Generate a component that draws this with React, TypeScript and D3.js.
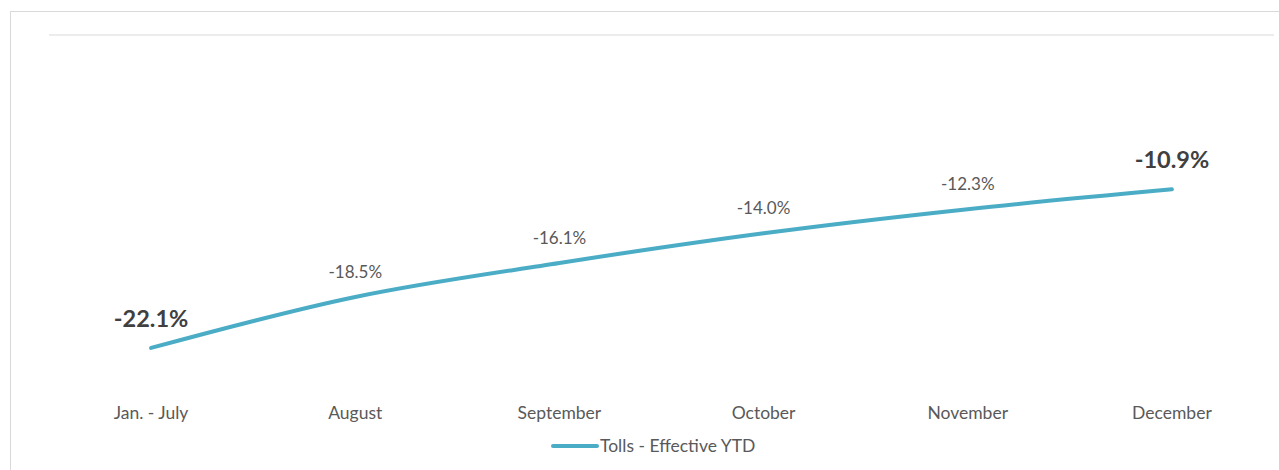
import React from "react";
import * as d3 from "d3";

const categories = ["Jan. - July", "August", "September", "October", "November", "December"];
const values = [-22.1, -18.5, -16.1, -14.0, -12.3, -10.9];
const seriesName = "Tolls - Effective YTD";

const width = 1279;
const height = 470;
const margin = { top: 35, right: 5, bottom: 81, left: 49 };
const lineColor = "#4BACC6";
const font = "Lato, 'Open Sans', sans-serif";

export default function App() {
  const x = d3
    .scaleBand<string>()
    .domain(categories)
    .range([margin.left, width - margin.right]);
  const y = d3
    .scaleLinear()
    .domain([-25, 0])
    .range([389, margin.top]);

  const cx = (c: string) => (x(c) ?? 0) + x.bandwidth() / 2;

  const line = d3
    .line<number>()
    .x((_, i) => cx(categories[i]))
    .y((d) => y(d))
    .curve(d3.curveMonotoneX);

  const last = values.length - 1;

  return (
    <svg
      width={width}
      height={height}
      style={{ position: "absolute", left: 0, top: 0, background: "#fff" }}
      fontFamily={font}
    >
      {/* chart border */}
      <rect x={10.5} y={11.5} width={width + 10} height={height + 10} fill="none" stroke="#d9d9d9" />

      {/* top gridline (0%) */}
      <line
        x1={margin.left}
        x2={width - margin.right}
        y1={y(0)}
        y2={y(0)}
        stroke="#d9d9d9"
        strokeWidth={1}
      />

      <path d={line(values) ?? ""} fill="none" stroke={lineColor} strokeWidth={4} strokeLinecap="round" />

      {values.map((v, i) => {
        const bold = i === 0 || i === last;
        return (
          <text
            key={categories[i]}
            x={cx(categories[i])}
            y={y(v) - (bold ? 21 : 19)}
            textAnchor="middle"
            fontSize={bold ? 23.5 : 17}
            fontWeight={bold ? 700 : 400}
            fill={bold ? "#404040" : "#595959"}
          >
            {v.toFixed(1) + "%"}
          </text>
        );
      })}

      {categories.map((c) => (
        <text key={c} x={cx(c)} y={419} textAnchor="middle" fontSize={17.5} fill="#595959">
          {c}
        </text>
      ))}

      {/* legend */}
      <g transform="translate(553,446)">
        <line x1={0} x2={44} y1={0} y2={0} stroke={lineColor} strokeWidth={4} strokeLinecap="round" />
        <text x={47} y={6} fontSize={17.5} fill="#595959">
          {seriesName}
        </text>
      </g>
    </svg>
  );
}
